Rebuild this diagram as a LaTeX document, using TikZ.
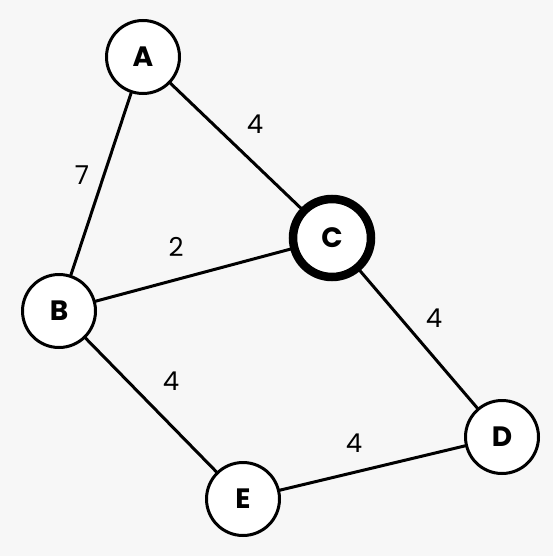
\documentclass[tikz,border=0pt]{standalone}
\usepackage{fontspec}
\setmainfont{Poppins}
\begin{document}
\begin{tikzpicture}[x=1pt,y=-1pt,
  vtx/.style={circle,draw=black,fill=white,line width=3pt,minimum size=73pt,inner sep=0pt,font=\fontsize{28}{28}\selectfont\bfseries},
  hot/.style={vtx,line width=8.5pt,minimum size=78pt},
  edge/.style={line width=3pt,black},
  wlab/.style={font=\fontsize{26}{26}\selectfont,inner sep=0pt}]
\fill[black!3] (0,0) rectangle (553,556);
\useasboundingbox (0,0) rectangle (553,556);
\draw[edge] (143,57) -- (59,311);
\draw[edge] (143,57) -- (332,238);
\draw[edge] (59,311) -- (332,238);
\draw[edge] (59,311) -- (243,499);
\draw[edge] (332,238) -- (502,437);
\draw[edge] (243,499) -- (502,437);
\node[vtx] (A) at (143,57) {A};
\node[vtx] (B) at (59,311) {B};
\node[hot] (C) at (332,238) {C};
\node[vtx] (D) at (502,437) {D};
\node[vtx] (E) at (243,499) {E};
\node[wlab] (lAC) at (255,124) {4};
\node[wlab] (lAB) at (82,175) {7};
\node[wlab] (lBC) at (176,247) {2};
\node[wlab] (lCD) at (434,318) {4};
\node[wlab] (lBE) at (171,381) {4};
\node[wlab] (lED) at (354,443) {4};
\end{tikzpicture}
\end{document}
